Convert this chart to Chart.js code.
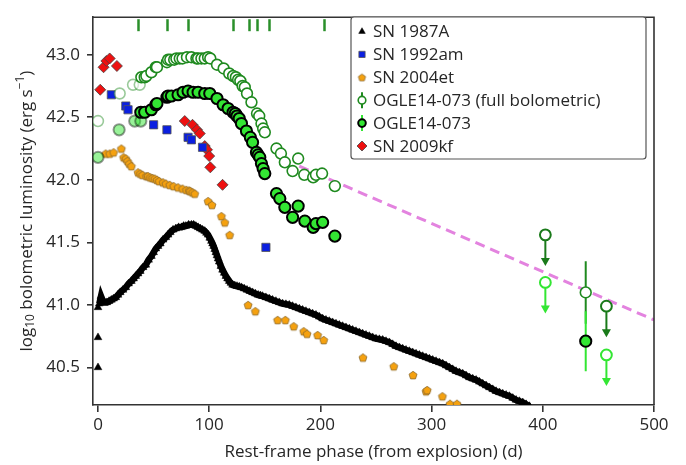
<!DOCTYPE html>
<html>
<head>
<meta charset="utf-8">
<script src="https://cdn.jsdelivr.net/npm/chart.js@4"></script>
<style>
  html, body { margin: 0; padding: 0; background: #fff; }
  #wrap { width: 686px; height: 465px; position: relative; }
</style>
</head>
<body>
<div id="wrap"><canvas id="grafico"></canvas></div>
<script>
// Ticks
const xTicks = [0, 100, 200, 300, 400, 500];
const yTicks = [40.5, 41.0, 41.5, 42.0, 42.5, 43.0];

// SN 1987A (rest-frame day, log L)
const sn1987aEarly = [[0, 40.50], [0, 40.74], [0, 40.98]];
const sn1987a = [[1.2,41.01],[2.7,41.07],[4,41.04],[6,41.02],[8,41.02],[10,41.03],[12,41.04],[14,41.05],[16,41.06],[18,41.08],[20,41.10],[22.5,41.12],[25,41.14],[27.5,41.17],[30,41.19],[32,41.21],[34,41.23],[36,41.25],[38,41.27],[40.5,41.30],[43,41.32],[45.5,41.36],[48,41.39],[50,41.42],[52,41.45],[54,41.47],[56,41.49],[58.5,41.52],[61,41.54],[63,41.56],[65,41.58],[67.5,41.60],[70,41.61],[72.5,41.62],[75,41.62],[77,41.63],[79,41.63],[81.5,41.64],[84,41.64],[86,41.64],[88,41.63],[90,41.62],[92,41.61],[94,41.60],[96,41.59],[97.5,41.575],[99,41.56],[100.5,41.535],[102,41.51],[103,41.49],[104,41.47],[105,41.445],[106,41.42],[107,41.395],[108,41.37],[109,41.345],[110.5,41.31],[112,41.28],[113.5,41.255],[115,41.23],[116.5,41.21],[118,41.19],[119.5,41.175],[121,41.16],[123,41.155],[125,41.15],[127,41.145],[129,41.14],[131.5,41.13],[134,41.12],[136.5,41.11],[139,41.10],[141.5,41.09],[144,41.08],[146,41.075],[148,41.07],[151,41.06],[154,41.05],[157,41.04],[160,41.03],[163,41.02],[166,41.01],[169,41.005],[172,41.00],[175,40.99],[178,40.98],[181,40.97],[184,40.96],[187,40.95],[190,40.94],[193,40.93],[196,40.92],[199,40.905],[202,40.89],[205,40.88],[208,40.87],[211,40.86],[214,40.85],[217,40.84],[220,40.83],[223,40.82],[226,40.81],[229,40.80],[232,40.79],[235,40.78],[238,40.77],[241,40.76],[244,40.75],[247,40.74],[250,40.73],[253,40.725],[256,40.72],[259,40.71],[262,40.70],[265,40.685],[268,40.67],[271,40.66],[274,40.65],[277,40.64],[280,40.63],[283,40.62],[286,40.61],[289,40.60],[292,40.59],[295,40.58],[298,40.57],[301,40.56],[304,40.55],[307,40.54],[310,40.53],[313,40.515],[316,40.50],[319,40.485],[322,40.47],[325,40.46],[328,40.45],[331,40.435],[334,40.42],[337,40.41],[340,40.40],[343,40.385],[346,40.37],[349,40.355],[352,40.34],[355,40.325],[358,40.31],[361,40.30],[364,40.29],[367,40.28],[370,40.27],[373,40.255],[376,40.24],[379,40.23],[382,40.22],[385,40.205],[388,40.19]];

// SN 1992am
const sn1992am = [[12,42.68],[25,42.59],[27,42.56],[50,42.44],[62,42.40],[81,42.34],[84,42.32],[94,42.26],[151,41.46]];

// SN 2004et
const sn2004et = [[6.9,42.21],[10.5,42.21],[14,42.22],[21,42.25],[23,42.18],[25,42.17],[26.5,42.15],[28,42.13],[30,42.11],[36,42.06],[38,42.05],[40,42.04],[43.5,42.03],[45,42.03],[47,42.02],[49,42.015],[51,42.01],[53,42.00],[55,41.99],[58.5,41.98],[61,41.97],[64.5,41.96],[68,41.95],[72,41.94],[76,41.93],[79.5,41.92],[82,41.915],[83,41.91],[85,41.90],[87,41.89],[99,41.83],[102.5,41.80],[111,41.71],[114,41.66],[118.4,41.56],[135,41.00],[141.5,40.95],[161.5,40.88],[168.5,40.88],[176,40.83],[185,40.79],[188,40.77],[197.5,40.76],[203,40.72],[238.3,40.58],[266,40.51],[283.3,40.44],[295,40.31],[296,40.32],[309.7,40.27],[316.5,40.21],[322.8,40.21]];

// OGLE14-073 full bolometric
const ogleFullEarly = [[0,42.47],[19.5,42.69],[31.5,42.76],[37.5,42.76]];
const ogleFull = [[39,42.82],[42,42.82],[43.5,42.83],[48,42.86],[52,42.90],[53,42.90],[62,42.94],[63,42.96],[65,42.96],[68.5,42.96],[70.5,42.97],[73.5,42.97],[76,42.97],[80,42.98],[84,42.98],[88.5,42.97],[90,42.97],[93,42.97],[96,42.97],[99,42.98],[101,42.97],[107,42.92],[113,42.89],[118,42.85],[121.5,42.83],[124,42.82],[126,42.80],[128,42.79],[130,42.75],[132,42.74],[134,42.69],[138,42.62],[143,42.53],[145,42.51],[147,42.45],[148.5,42.41],[150,42.38],[160.5,42.25],[164.5,42.21],[168,42.14],[175,42.07],[180,42.17],[185.5,42.04],[193.5,42.02],[196,42.04],[201.5,42.05],[213,41.95],[438.6,41.10]];
const ogleFullErr = [[180,42.17,0.04],[201.5,42.05,0.03],[438.6,41.10,0.25]];
const ogleFullLimits = [[402.3,41.56],[457.2,40.99]];

// OGLE14-073
const ogleEarly = [[0,42.18],[19,42.40],[33,42.47],[38.5,42.47]];
const ogle = [[38.5,42.54],[42,42.54],[48,42.56],[52,42.60],[53,42.61],[62,42.66],[63,42.67],[66,42.67],[72,42.68],[76.5,42.70],[81,42.71],[85.5,42.70],[90,42.70],[96,42.69],[100.5,42.69],[107,42.65],[112.5,42.60],[117,42.57],[121.5,42.54],[123.5,42.53],[125,42.51],[127,42.49],[129,42.45],[133.5,42.39],[137,42.34],[139,42.30],[142.5,42.22],[144,42.20],[145.5,42.18],[147,42.13],[148.5,42.09],[150,42.05],[160.5,41.89],[163.5,41.85],[168,41.78],[175,41.70],[180,41.79],[186,41.67],[193.5,41.62],[196,41.65],[202,41.66],[213,41.55]];
const ogleLate = [[438.6,40.71]];
const ogleErr = [[180,41.79,0.04],[201.5,41.66,0.03],[438.6,40.71,0.24]];
const ogleLimits = [[402.3,41.18],[457.2,40.60]];
const limitArrow = 0.24;

// SN 2009kf
const sn2009kf = [[2,42.72],[5,42.90],[7.5,42.95],[10.5,42.97],[17,42.91],[78,42.47],[85,42.44],[89,42.40],[91.5,42.37],[96,42.27],[98,42.24],[100,42.19],[101,42.10],[112,41.96]];

// 56Co decay line and spectral epochs
const coDecay = [[181,42.11],[500,40.88]];
const spectraDays = [36, 62, 81, 121, 136, 143, 154, 203];

const FONT = '"Open Sans", "DejaVu Sans", sans-serif';
const FS = 17;
const TXT = '#262626';
const DKGREEN = '#1f8a1f';
const LIME = '#33e633';

const pts = arr => arr.map(p => ({ x: p[0], y: p[1] }));

// Pentagon marker
function pentagono(r, fill, stroke) {
    const c = document.createElement('canvas');
    const s = Math.ceil(r * 2 + 3);
    c.width = s; c.height = s;
    const g = c.getContext('2d');
    g.beginPath();
    for (let i = 0; i < 5; i++) {
        const a = -Math.PI / 2 + i * 2 * Math.PI / 5;
        g.lineTo(s / 2 + r * Math.cos(a), s / 2 + 0.5 + r * Math.sin(a));
    }
    g.closePath();
    g.fillStyle = fill; g.fill();
    g.lineWidth = 0.8; g.strokeStyle = stroke; g.stroke();
    return c;
}
const pentMarker = pentagono(4.2, '#f5a10f', '#8a6a30');
const pentLegend = pentagono(3.8, '#f5a10f', '#8a6a30');

// Error bars, upper limit arrows
function linhaV(ctx, x, y1, y2, cor, w) {
    ctx.beginPath(); ctx.moveTo(x, y1); ctx.lineTo(x, y2);
    ctx.strokeStyle = cor; ctx.lineWidth = w; ctx.stroke();
}
function seta(ctx, x, y1, y2, cor) {
    linhaV(ctx, x, y1, y2 - 5, cor, 2);
    ctx.beginPath();
    ctx.moveTo(x - 4.5, y2 - 7); ctx.lineTo(x + 4.5, y2 - 7); ctx.lineTo(x, y2 + 1);
    ctx.closePath(); ctx.fillStyle = cor; ctx.fill();
}
const errPlugin = {
    id: 'errPlugin',
    beforeDatasetsDraw(chart) {
        const { ctx, chartArea: a, scales: { x, y } } = chart;
        ctx.save();
        ctx.beginPath(); ctx.rect(a.left, a.top, a.right - a.left, a.bottom - a.top); ctx.clip();
        ogleFullErr.forEach(e => linhaV(ctx, x.getPixelForValue(e[0]), y.getPixelForValue(e[1] + e[2]), y.getPixelForValue(e[1] - e[2]), DKGREEN, 2));
        ogleErr.forEach(e => linhaV(ctx, x.getPixelForValue(e[0]), y.getPixelForValue(e[1] + e[2]), y.getPixelForValue(e[1] - e[2]), LIME, 2));
        ogleFullLimits.forEach(l => seta(ctx, x.getPixelForValue(l[0]), y.getPixelForValue(l[1]), y.getPixelForValue(l[1] - limitArrow), '#1a7a1a'));
        ogleLimits.forEach(l => seta(ctx, x.getPixelForValue(l[0]), y.getPixelForValue(l[1]), y.getPixelForValue(l[1] - limitArrow), LIME));
        ctx.restore();
    }
};

// Frame, spectral ticks, y title, legend box
const extrasPlugin = {
    id: 'extras',
    afterDraw(chart) {
        const { ctx, chartArea: a, scales: { x, y } } = chart;
        ctx.save();
        // frame top + right
        ctx.strokeStyle = '#333'; ctx.lineWidth = 1.6;
        ctx.beginPath();
        ctx.moveTo(a.left, a.top); ctx.lineTo(a.right, a.top); ctx.lineTo(a.right, a.bottom);
        ctx.stroke();
        // spectra epochs
        spectraDays.forEach(d => {
            const px = Math.round(x.getPixelForValue(d)) + 0.5;
            linhaV(ctx, px, a.top + 2, a.top + 14, '#2a8f2a', 2.5);
        });
        // y axis title with sub/superscript
        ctx.translate(27, (a.top + a.bottom) / 2);
        ctx.rotate(-Math.PI / 2);
        ctx.fillStyle = TXT;
        ctx.textBaseline = 'middle';
        const big = FS + 'px ' + FONT, small = '12px ' + FONT;
        const partes = [['log', big, 0], ['10', small, 4], [' bolometric luminosity (erg s', big, 0], ['\u22121', small, -6], [')', big, 0]];
        let tw = 0;
        partes.forEach(p => { ctx.font = p[1]; tw += ctx.measureText(p[0]).width; });
        let cx = -tw / 2;
        partes.forEach(p => {
            ctx.font = p[1];
            ctx.textAlign = 'left';
            ctx.fillText(p[0], cx, p[2]);
            cx += ctx.measureText(p[0]).width;
        });
        ctx.restore();

        // legend
        ctx.save();
        const lx = 351, ly = 17, lw = 295, lh = 142;
        ctx.fillStyle = '#fff';
        ctx.strokeStyle = '#555'; ctx.lineWidth = 1.2;
        ctx.beginPath();
        ctx.roundRect(lx, ly, lw, lh, 3);
        ctx.fill(); ctx.stroke();
        const itens = chart.data.datasets.filter(d => d.naLegenda);
        itens.forEach((d, i) => {
            const cy = ly + 14.5 + i * 22.9;
            const mx = lx + 11;
            if (d.legendBar) linhaV(ctx, mx, cy - 8, cy + 8, d.legendBar, 2);
            ctx.fillStyle = d.pointBackgroundColor;
            ctx.strokeStyle = d.pointBorderColor;
            ctx.lineWidth = d.pointBorderWidth;
            Chart.helpers.drawPoint(ctx, {
                pointStyle: d.legendStyle || d.pointStyle,
                radius: d.legendRadius,
                borderWidth: d.pointBorderWidth
            }, mx, cy);
            ctx.fillStyle = TXT;
            ctx.font = FS + 'px ' + FONT;
            ctx.textBaseline = 'middle';
            ctx.textAlign = 'left';
            ctx.fillText(d.label, lx + 22, cy + 1);
        });
        ctx.restore();
    }
};

const ctx = document.getElementById('grafico').getContext('2d');
const grafico = new Chart(ctx, {
    type: 'scatter',
    data: {
        datasets: [
            {
                label: 'SN 1987A', naLegenda: true, legendRadius: 3.8,
                data: pts(sn1987a), showLine: true, borderColor: '#000', borderWidth: 6.5,
                pointStyle: 'triangle', pointRadius: 4.5, pointBackgroundColor: '#000',
                pointBorderColor: '#000', pointBorderWidth: 0.5, order: 5
            },
            {
                label: 'SN 1992am', naLegenda: true, legendRadius: 4.4,
                data: pts(sn1992am), pointStyle: 'rect', pointRadius: 5.8,
                pointBackgroundColor: '#0b1fe0', pointBorderColor: '#555', pointBorderWidth: 0.8, order: 2
            },
            {
                label: 'SN 2004et', naLegenda: true, legendRadius: 4,
                data: pts(sn2004et), pointStyle: pentMarker, legendStyle: pentLegend,
                pointBackgroundColor: '#f5a10f', pointBorderColor: '#8a6a30', pointBorderWidth: 0.8, order: 3
            },
            {
                label: 'OGLE14-073 (full bolometric)', naLegenda: true, legendRadius: 3.8, legendBar: DKGREEN,
                data: pts(ogleFull), pointStyle: 'circle', pointRadius: 5.4,
                pointBackgroundColor: '#fff', pointBorderColor: DKGREEN, pointBorderWidth: 1.6, order: 1
            },
            {
                label: 'OGLE14-073', naLegenda: true, legendRadius: 3.8, legendBar: LIME,
                data: pts(ogle.concat(ogleLate)), pointStyle: 'circle', pointRadius: 5.6,
                pointBackgroundColor: LIME, pointBorderColor: '#000', pointBorderWidth: 2, order: 1
            },
            {
                label: 'SN 2009kf', naLegenda: true, legendRadius: 5,
                data: pts(sn2009kf), pointStyle: 'rectRot', pointRadius: 5.5,
                pointBackgroundColor: '#ee1010', pointBorderColor: '#444', pointBorderWidth: 0.8, order: 2
            },
            {
                label: 'SN 1987A early', data: pts(sn1987aEarly), pointStyle: 'triangle', pointRadius: 4.5,
                pointBackgroundColor: '#000', pointBorderColor: '#000', pointBorderWidth: 0.5, order: 5
            },
            {
                label: 'full early', data: pts(ogleFullEarly), pointStyle: 'circle', pointRadius: 5.4,
                pointBackgroundColor: 'rgba(255,255,255,0.6)', pointBorderColor: 'rgba(31,138,31,0.45)', pointBorderWidth: 1.6, order: 1
            },
            {
                label: 'early', data: pts(ogleEarly), pointStyle: 'circle', pointRadius: 5.6,
                pointBackgroundColor: 'rgba(51,230,51,0.5)', pointBorderColor: 'rgba(0,0,0,0.4)', pointBorderWidth: 2, order: 1
            },
            {
                label: 'full limits', data: pts(ogleFullLimits), pointStyle: 'circle', pointRadius: 5.4,
                pointBackgroundColor: '#fff', pointBorderColor: '#1a7a1a', pointBorderWidth: 2, order: 1
            },
            {
                label: 'limits', data: pts(ogleLimits), pointStyle: 'circle', pointRadius: 5.4,
                pointBackgroundColor: '#fff', pointBorderColor: LIME, pointBorderWidth: 2, order: 1
            },
            {
                label: 'Co decay', type: 'line', data: pts(coDecay), borderColor: '#e383df', borderWidth: 3,
                borderDash: [10, 6], pointRadius: 0, fill: false, order: 9
            }
        ]
    },
    options: {
        responsive: true,
        maintainAspectRatio: false,
        animation: false,
        layout: { padding: { top: 8, right: 32, left: 0, bottom: 0 }, autoPadding: false },
        plugins: { legend: { display: false }, tooltip: { enabled: false } },
        scales: {
            x: {
                type: 'linear', min: -4.5, max: 500,
                afterBuildTicks: s => { s.ticks = xTicks.map(v => ({ value: v })); },
                afterFit: s => { s.height = 60; },
                grid: { drawOnChartArea: false, drawTicks: true, tickLength: 7, color: '#333', lineWidth: 1.6 },
                border: { display: true, color: '#333', width: 1.6 },
                ticks: { color: TXT, font: { family: FONT, size: FS }, padding: 3, maxRotation: 0,
                         callback: v => String(v) },
                title: { display: true, text: 'Rest-frame phase (from explosion) (d)', color: TXT,
                         font: { family: FONT, size: FS }, padding: { top: 0, bottom: 3 } }
            },
            y: {
                type: 'linear', min: 40.2, max: 43.3,
                afterBuildTicks: s => { s.ticks = yTicks.map(v => ({ value: v })); },
                afterFit: s => { s.width = 93; },
                grid: { drawOnChartArea: false, drawTicks: true, tickLength: 6, color: '#333', lineWidth: 1.6 },
                border: { display: true, color: '#333', width: 1.6 },
                ticks: { color: TXT, font: { family: FONT, size: FS }, padding: 7,
                         callback: v => v.toFixed(1) }
            }
        }
    },
    plugins: [errPlugin, extrasPlugin]
});
</script>
</body>
</html>
